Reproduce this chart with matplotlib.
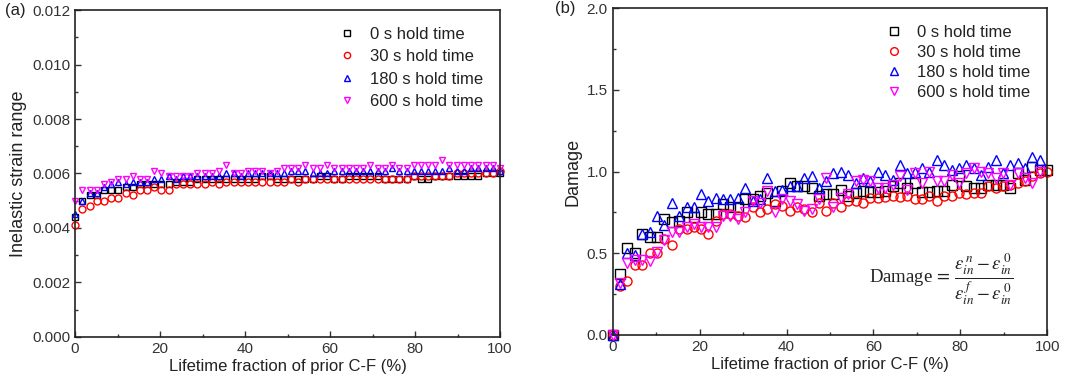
import numpy as np
import matplotlib
matplotlib.use('agg')
import matplotlib.pyplot as plt
from matplotlib.ticker import MultipleLocator

plt.rcParams['font.family'] = ['Liberation Sans', 'DejaVu Sans']
plt.rcParams['mathtext.fontset'] = 'stix'

# lifetime fraction of prior C-F (%)
lifetime = [0, 1.7, 3.4, 5.1, 6.8, 8.5, 10.2, 11.9, 13.6, 15.3, 17.0, 18.6, 20.3, 22.0, 23.7,
            25.4, 27.1, 28.8, 30.5, 32.2, 33.9, 35.6, 37.3, 39.0, 40.7, 42.4, 44.1, 45.8, 47.5,
            49.2, 50.8, 52.5, 54.2, 55.9, 57.6, 59.3, 61.0, 62.7, 64.4, 66.1, 67.8, 69.5, 71.2,
            72.9, 74.6, 76.3, 78.0, 79.7, 81.4, 83.1, 84.7, 86.4, 88.1, 89.8, 91.5, 93.2, 94.9,
            96.6, 98.3, 100]

labels = ['0 s hold time', '30 s hold time', '180 s hold time', '600 s hold time']

# (a) inelastic strain range
strain_0s = [0.0044, 0.0050, 0.0052, 0.0052, 0.0054, 0.0054, 0.0054, 0.0055, 0.0055, 0.0056,
             0.0056, 0.0056, 0.0056, 0.0056, 0.0057, 0.0057, 0.0057, 0.0058, 0.0058, 0.0058,
             0.0058, 0.0058, 0.0058, 0.0058, 0.0058, 0.0058, 0.0059, 0.0059, 0.0058, 0.0058,
             0.0058, 0.0058, 0.0058, 0.0058, 0.0059, 0.0059, 0.0058, 0.0058, 0.0059, 0.0059,
             0.0059, 0.0059, 0.0059, 0.0058, 0.0058, 0.0058, 0.0058, 0.0059, 0.0058, 0.0058,
             0.0059, 0.0059, 0.0059, 0.0059, 0.0059, 0.0059, 0.0059, 0.0060, 0.0060, 0.0060]
strain_30s = [0.0041, 0.0047, 0.0048, 0.0050, 0.0050, 0.0051, 0.0051, 0.0053, 0.0052, 0.0054,
              0.0054, 0.0055, 0.0054, 0.0054, 0.0056, 0.0056, 0.0056, 0.0056, 0.0056, 0.0057,
              0.0056, 0.0057, 0.0057, 0.0057, 0.0057, 0.0057, 0.0057, 0.0057, 0.0057, 0.0057,
              0.0058, 0.0057, 0.0058, 0.0058, 0.0058, 0.0058, 0.0058, 0.0058, 0.0058, 0.0058,
              0.0058, 0.0058, 0.0058, 0.0058, 0.0058, 0.0058, 0.0058, 0.0059, 0.0059, 0.0059,
              0.0059, 0.0059, 0.0059, 0.0060, 0.0060, 0.0060, 0.0060, 0.0060, 0.0060, 0.0061]
strain_180s = [0.0045, 0.0050, 0.0053, 0.0053, 0.0055, 0.0056, 0.0057, 0.0056, 0.0057, 0.0057,
               0.0057, 0.0058, 0.0058, 0.0059, 0.0058, 0.0059, 0.0059, 0.0059, 0.0059, 0.0059,
               0.0059, 0.0060, 0.0060, 0.0059, 0.0060, 0.0060, 0.0060, 0.0060, 0.0060, 0.0060,
               0.0061, 0.0061, 0.0061, 0.0060, 0.0060, 0.0060, 0.0061, 0.0061, 0.0061, 0.0061,
               0.0061, 0.0061, 0.0061, 0.0061, 0.0062, 0.0061, 0.0061, 0.0061, 0.0061, 0.0061,
               0.0061, 0.0061, 0.0062, 0.0061, 0.0061, 0.0062, 0.0062, 0.0062, 0.0062, 0.0061]
strain_600s = [0.0050, 0.0054, 0.0054, 0.0054, 0.0056, 0.0057, 0.0058, 0.0058, 0.0059, 0.0058,
               0.0058, 0.0061, 0.0060, 0.0059, 0.0059, 0.0059, 0.0059, 0.0060, 0.0060, 0.0060,
               0.0061, 0.0063, 0.0060, 0.0060, 0.0061, 0.0061, 0.0061, 0.0060, 0.0061, 0.0062,
               0.0062, 0.0062, 0.0063, 0.0062, 0.0062, 0.0063, 0.0062, 0.0062, 0.0062, 0.0062,
               0.0062, 0.0063, 0.0062, 0.0062, 0.0063, 0.0062, 0.0062, 0.0063, 0.0063, 0.0063,
               0.0063, 0.0065, 0.0063, 0.0063, 0.0063, 0.0063, 0.0063, 0.0063, 0.0063, 0.0062]

# (b) damage
damage_0s = [0.00, 0.37, 0.53, 0.50, 0.62, 0.60, 0.60, 0.71, 0.69, 0.70, 0.75, 0.72, 0.75, 0.74,
             0.74, 0.80, 0.78, 0.78, 0.83, 0.83, 0.85, 0.87, 0.82, 0.88, 0.93, 0.91, 0.91, 0.90,
             0.85, 0.86, 0.86, 0.89, 0.85, 0.87, 0.88, 0.875, 0.875, 0.88, 0.91, 0.93, 0.90, 0.93,
             0.875, 0.875, 0.88, 0.88, 0.92, 0.97, 0.91, 0.90, 0.90, 0.92, 0.92, 0.92, 0.90,
             0.99, 0.95, 1.03, 1.01, 1.01]
damage_30s = [0.00, 0.30, 0.33, 0.43, 0.43, 0.50, 0.50, 0.59, 0.55, 0.65, 0.65, 0.66, 0.65,
              0.62, 0.70, 0.74, 0.74, 0.73, 0.72, 0.78, 0.75, 0.77, 0.80, 0.79, 0.76, 0.78, 0.77,
              0.75, 0.81, 0.76, 0.81, 0.78, 0.82, 0.82, 0.81, 0.84, 0.84, 0.845, 0.85, 0.845,
              0.85, 0.83, 0.83, 0.85, 0.82, 0.85, 0.85, 0.87, 0.86, 0.87, 0.87, 0.91, 0.90, 0.91,
              0.92, 0.93, 0.94, 0.97, 0.99, 1.00]
damage_180s = [0.00, 0.31, 0.50, 0.49, 0.62, 0.63, 0.73, 0.67, 0.81, 0.73, 0.78, 0.78, 0.86,
               0.82, 0.84, 0.83, 0.83, 0.84, 0.90, 0.82, 0.83, 0.96, 0.88, 0.89, 0.91, 0.91,
               0.96, 0.97, 0.90, 0.94, 0.99, 1.00, 0.98, 0.93, 0.96, 0.94, 1.00, 0.98, 0.95,
               1.04, 0.99, 1.00, 1.02, 1.00, 1.07, 1.04, 1.01, 1.02, 1.04, 1.02, 0.98, 1.03,
               1.07, 0.99, 1.04, 1.05, 1.02, 1.09, 1.07]
damage_600s = [0.00, 0.32, 0.44, 0.46, 0.46, 0.45, 0.51, 0.58, 0.63, 0.63, 0.66, 0.68, 0.66,
               0.66, 0.66, 0.73, 0.73, 0.71, 0.75, 0.82, 0.81, 0.88, 0.75, 0.83, 0.82, 0.80,
               0.76, 0.77, 0.83, 0.96, 0.78, 0.84, 0.86, 0.94, 0.95, 0.94, 0.90, 0.90, 0.92,
               0.97, 0.89, 0.99, 0.93, 1.00, 0.94, 0.94, 0.98, 0.93, 0.99, 1.02, 1.00, 0.99,
               0.96, 0.99, 0.92, 0.99, 0.96, 0.93, 1.00]

styles = [('s', 'black'), ('o', 'red'), ('^', 'blue'), ('v', 'magenta')]

fig = plt.figure(figsize=(10.73, 3.89), dpi=100)
axA = fig.add_axes([0.070, 0.134, 0.396, 0.840])
axB = fig.add_axes([0.571, 0.139, 0.405, 0.840])


def drawSeries(ax, seriesList, markerSize):
    for values, label, (marker, color) in zip(seriesList, labels, styles):
        xs = lifetime[:len(values)]
        ax.plot(xs, values, linestyle='none', marker=marker, markersize=markerSize,
                markerfacecolor='none', markeredgecolor=color, markeredgewidth=1.0,
                label=label, clip_on=False)


def styleAxis(ax, spacing, legendMarker):
    ax.set_xlim(0, 100)
    ax.xaxis.set_major_locator(MultipleLocator(20))
    ax.xaxis.set_minor_locator(MultipleLocator(10))
    ax.tick_params(which='both', direction='in', top=False, right=False, labelsize=11,
                   colors='#333333')
    ax.tick_params(which='major', length=4, width=1, labelcolor='#333333')
    ax.tick_params(which='minor', length=2.5, width=1)
    for spine in ax.spines.values():
        spine.set_linewidth(1.2)
        spine.set_color('#222222')
    ax.set_xlabel('Lifetime fraction of prior C-F (%)', fontsize=12, labelpad=2, color='#222222')
    leg = ax.legend(loc='upper right', frameon=False, fontsize=12, handletextpad=0.8,
                    labelspacing=spacing, borderaxespad=0.5, handlelength=1.2,
                    borderpad=0.5, markerscale=legendMarker)
    for text in leg.get_texts():
        text.set_color('#222222')


drawSeries(axA, [strain_0s, strain_30s, strain_180s, strain_600s], 5)
axA.set_ylim(0, 0.012)
axA.yaxis.set_major_locator(MultipleLocator(0.002))
axA.yaxis.set_minor_locator(MultipleLocator(0.001))
axA.yaxis.set_major_formatter(matplotlib.ticker.FormatStrFormatter('%.3f'))
axA.set_ylabel('Inelastic strain range', fontsize=13, labelpad=4, color='#222222')
styleAxis(axA, 0.45, 0.9)

drawSeries(axB, [damage_0s, damage_30s, damage_180s, damage_600s], 6.5)
axB.set_ylim(0, 2.0)
axB.yaxis.set_major_locator(MultipleLocator(0.5))
axB.yaxis.set_minor_locator(MultipleLocator(0.25))
axB.yaxis.set_major_formatter(matplotlib.ticker.FormatStrFormatter('%.1f'))
axB.set_ylabel('Damage', fontsize=13, labelpad=4, color='#222222')
styleAxis(axB, 0.3, 0.85)

axB.text(0.755, 0.17,
         r'Damage$\,=\,\dfrac{\varepsilon_{in}^{\,n}-\varepsilon_{in}^{\,0}}{\varepsilon_{in}^{\,f}-\varepsilon_{in}^{\,0}}$',
         transform=axB.transAxes, ha='center', va='center', fontsize=13.5,
         family='Liberation Serif', color='#222222')

fig.text(0.005, 0.972, '(a)', fontsize=12, va='center', color='#222222')
fig.text(0.517, 0.977, '(b)', fontsize=12, va='center', color='#222222')

plt.savefig('out.png', dpi=100)
